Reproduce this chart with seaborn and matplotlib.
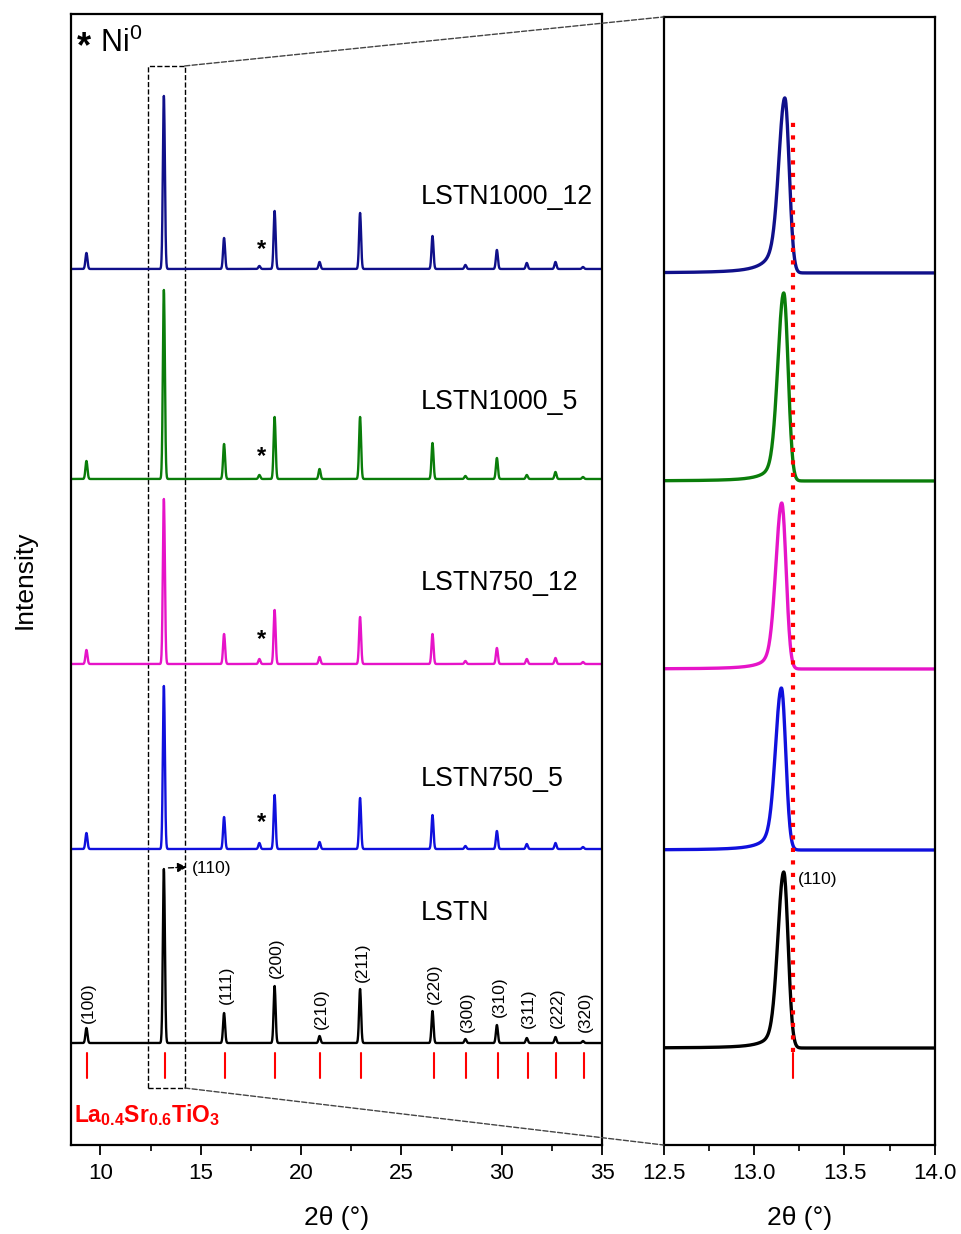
import numpy as np
import pandas as pd
import seaborn as sns
import matplotlib.pyplot as plt
from matplotlib.patches import Rectangle, ConnectionPatch
from matplotlib.ticker import MultipleLocator

# reference La0.4Sr0.6TiO3 reflections (red ticks)
HKL = ['(100)', '(110)', '(111)', '(200)', '(210)', '(211)',
       '(220)', '(300)', '(310)', '(311)', '(222)', '(320)']
REF_POS = [9.33, 13.21, 16.20, 18.72, 20.96, 22.98, 26.60, 28.24, 29.81, 31.30, 32.73, 34.10]

# measured peak positions of the samples
SAMPLE_POS = [9.30, 13.16, 16.16, 18.68, 20.92, 22.94, 26.55, 28.19, 29.76, 31.25, 32.68, 34.05]
NI_POS = 17.92

SAMPLES = ['LSTN', 'LSTN750_5', 'LSTN750_12', 'LSTN1000_5', 'LSTN1000_12']
COLORS = ['#000000', '#1010dd', '#e614c8', '#0a7d0a', '#10108a']

# peak heights (stacked-plot units) for every reflection, plus Ni(111)
H_LSTN = [15, 174, 30, 57, 7, 54, 32, 4, 18, 5, 6, 2]
H_750_5 = [16, 163, 32, 54, 7, 51, 34, 3, 18, 5, 6, 2]
H_750_12 = [14, 165, 30, 54, 7, 47, 30, 3, 16, 5, 6, 2]
H_1000_5 = [18, 189, 35, 62, 10, 62, 36, 3, 21, 4, 7, 2]
H_1000_12 = [16, 173, 31, 58, 7, 56, 33, 4, 19, 6, 7, 2]
HEIGHTS = [H_LSTN, H_750_5, H_750_12, H_1000_5, H_1000_12]
NI_HEIGHT = [0, 6, 5, 4, 3]
OFFSETS = [102, 296, 481, 666, 876]

# zoomed (110) region
R_CENTER = [13.164, 13.151, 13.153, 13.164, 13.170]
R_HEIGHT = [176, 162, 166, 188, 175]
R_OFFSET = [97, 295, 476, 664, 872]
R_TAIL = [0.18, 0.22, 0.18, 0.18, 0.30]

LABEL_Y = [232, 366, 562, 743, 948]
STAR_Y = [None, 322, 505, 688, 895]
# bottom of each rotated hkl label
HKL_Y = [122, None, 141, 167, 116, 163, 141, 113, 128, 117, 117, 113]


def gauss(x, c, s):
    return np.exp(-0.5 * ((x - c) / s) ** 2)


def pattern(x, heights, ni, base):
    y = np.full_like(x, base, dtype=float)
    for p, h in zip(SAMPLE_POS, heights):
        y += h * gauss(x, p, 0.05)
    y += ni * gauss(x, NI_POS, 0.05)
    return y


def zoom_peak(x, c, h, tail, base):
    d = x - c
    left = (1 - tail) * gauss(x, c, 0.032) + tail / (1 + (d / 0.06) ** 2)
    right = gauss(x, c, 0.024)
    y = np.where(d < 0, left, right)
    return base + h * y


sns.set_style('ticks')
plt.rcParams['font.family'] = ['Liberation Sans', 'DejaVu Sans']
plt.rcParams['mathtext.fontset'] = 'custom'
plt.rcParams['mathtext.rm'] = 'Liberation Sans'
plt.rcParams['mathtext.bf'] = 'Liberation Sans:bold'
plt.rcParams['text.color'] = 'black'
plt.rcParams['axes.labelcolor'] = 'black'
plt.rcParams['axes.edgecolor'] = 'black'
plt.rcParams['xtick.color'] = 'black'

fig = plt.figure(figsize=(9.62, 12.34), dpi=100)
ax = fig.add_axes([0.0738, 0.0721, 0.552, 0.9166])
ax2 = fig.add_axes([0.690, 0.0721, 0.2817, 0.9142])

x_full = np.arange(8.5, 35.01, 0.01)
x_zoom = np.arange(12.5, 14.001, 0.002)

for i, name in enumerate(SAMPLES):
    df = pd.DataFrame({'tt': x_full, 'I': pattern(x_full, HEIGHTS[i], NI_HEIGHT[i], OFFSETS[i])})
    sns.lineplot(data=df, x='tt', y='I', color=COLORS[i], lw=1.7, ax=ax)
    dz = pd.DataFrame({'tt': x_zoom, 'I': zoom_peak(x_zoom, R_CENTER[i], R_HEIGHT[i],
                                                   R_TAIL[i], R_OFFSET[i])})
    sns.lineplot(data=dz, x='tt', y='I', color=COLORS[i], lw=2.4, ax=ax2)
    ax.text(25.95, LABEL_Y[i], name, fontsize=19.3, va='center', ha='left')
    if STAR_Y[i] is not None:
        ax.text(18.02, STAR_Y[i], '*', fontsize=17, fontweight='bold', va='center', ha='center')

# reference ticks
for p in REF_POS:
    ax.plot([p, p], [67, 92], color='red', lw=1.5)
ax2.plot([13.215, 13.215], [67, 92], color='red', lw=1.5)
ax2.plot([13.215, 13.215], [93, 1025], color='red', lw=3, ls=(0, (1, 2)))

for p, lab, yy in zip(SAMPLE_POS, HKL, HKL_Y):
    if yy is None:
        continue
    ax.text(p + 0.1, yy, lab, rotation=90, fontsize=12.5, ha='center', va='bottom')

ax.annotate('', xy=(14.45, 278), xytext=(13.25, 277),
            arrowprops=dict(arrowstyle='-|>', color='black', lw=1, ls='--', mutation_scale=14))
ax.text(14.55, 277, '(110)', fontsize=12.5, va='center', ha='left')
ax2.text(13.24, 265, '(110)', fontsize=12.5, va='center', ha='left')

ax.text(9.2, 1097, '*', fontsize=26, fontweight='bold', va='center', ha='center')
ax.text(10.0, 1102, 'Ni$^0$', fontsize=22, va='center', ha='left')
ax.text(8.7, 30, r'La$_{\mathbf{0.4}}$Sr$_{\mathbf{0.6}}$TiO$_{\mathbf{3}}$', color='red',
        fontsize=16.5, fontweight='bold', va='center', ha='left')

# zoom box and connectors
ax.add_patch(Rectangle((12.35, 57), 1.85, 1022, fill=False, ls='--', lw=1, color='black'))
for ya, yb in [(1079, 1), (57, 0)]:
    con = ConnectionPatch(xyA=(14.2, ya), coordsA=ax.transData, xyB=(0, yb),
                          coordsB=ax2.transAxes, color='#444444', lw=1, ls='--')
    fig.add_artist(con)

ax.set_xlim(8.53, 35)
ax.set_ylim(0, 1131)
ax2.set_xlim(12.5, 14.0)
ax2.set_ylim(0, 1128)

ax.set_xticks([10, 15, 20, 25, 30, 35])
ax.xaxis.set_minor_locator(MultipleLocator(2.5))
ax2.set_xticks([12.5, 13.0, 13.5, 14.0])
ax2.set_xticklabels(['12.5', '13.0', '13.5', '14.0'])
ax2.xaxis.set_minor_locator(MultipleLocator(0.25))

for a in (ax, ax2):
    a.set_yticks([])
    a.set_ylabel('')
    a.set_xlabel('2θ (°)', fontsize=19, labelpad=16)
    a.tick_params(axis='x', which='major', direction='out', length=7, width=1.3,
                  labelsize=16, pad=6)
    a.tick_params(axis='x', which='minor', direction='out', length=4, width=1.2)
    for s in a.spines.values():
        s.set_visible(True)
        s.set_linewidth(1.6)
ax.set_ylabel('Intensity', fontsize=19, labelpad=25)

fig.savefig('out.png', dpi=100)
